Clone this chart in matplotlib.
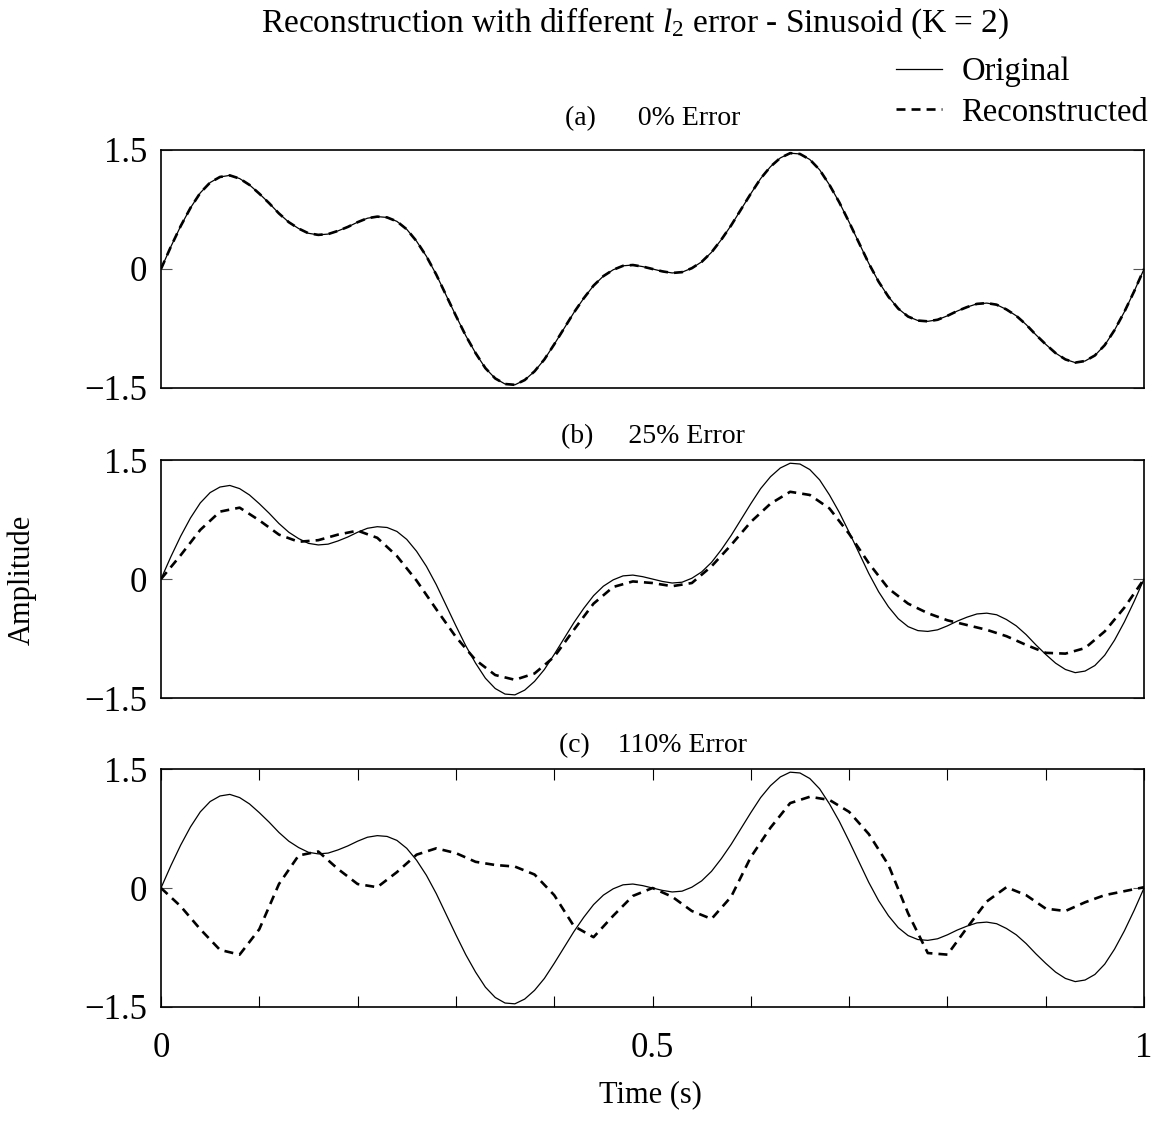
#Reconstruction of a K = 2 sinusoid with different l2 errors.
import numpy as np
import matplotlib.pyplot as plt

plt.rcParams['font.family'] = ['Liberation Serif', 'DejaVu Serif']
plt.rcParams['mathtext.fontset'] = 'custom'
plt.rcParams['mathtext.rm'] = 'Liberation Serif'
plt.rcParams['mathtext.it'] = 'Liberation Serif:italic'

#Sample times (s).
time_fine = np.linspace(0, 1, 101)
time_coarse = np.linspace(0, 1, 51)

#Original signal, read every 0.01 s.
original = [0.00, 0.28, 0.54, 0.77, 0.96, 1.09, 1.16, 1.18, 1.14, 1.06,
            0.95, 0.83, 0.70, 0.59, 0.51, 0.45, 0.43, 0.44, 0.48, 0.53,
            0.59, 0.64, 0.66, 0.65, 0.60, 0.50, 0.35, 0.16, -0.07, -0.33,
            -0.59, -0.84, -1.06, -1.25, -1.38, -1.45, -1.46, -1.40, -1.29, -1.14,
            -0.95, -0.75, -0.55, -0.37, -0.21, -0.09, -0.01, 0.04, 0.05, 0.03,
            0.00, -0.03, -0.05, -0.04, 0.01, 0.09, 0.21, 0.37, 0.55, 0.75,
            0.95, 1.14, 1.29, 1.40, 1.46, 1.45, 1.38, 1.25, 1.06, 0.84,
            0.59, 0.33, 0.07, -0.16, -0.35, -0.50, -0.60, -0.65, -0.66, -0.64,
            -0.59, -0.53, -0.48, -0.44, -0.43, -0.45, -0.51, -0.59, -0.70, -0.83,
            -0.95, -1.06, -1.14, -1.18, -1.16, -1.09, -0.96, -0.77, -0.54, -0.28,
            0.00]

#Reconstructions. (a) matches the original, (b) and (c) read every 0.02 s.
recon_a = list(original)
recon_b = [0.00, 0.30, 0.62, 0.85, 0.90, 0.74, 0.56, 0.47, 0.49, 0.56,
           0.61, 0.52, 0.29, -0.02, -0.38, -0.73, -1.02, -1.21, -1.27, -1.19,
           -0.98, -0.64, -0.31, -0.10, -0.03, -0.05, -0.09, -0.05, 0.16, 0.43,
           0.72, 0.95, 1.10, 1.06, 0.89, 0.57, 0.20, -0.12, -0.31, -0.43,
           -0.52, -0.58, -0.64, -0.72, -0.83, -0.93, -0.94, -0.87, -0.66, -0.36,
           0.00]
recon_c = [0.00, -0.23, -0.52, -0.78, -0.84, -0.52, 0.05, 0.41, 0.46, 0.24,
           0.05, 0.01, 0.20, 0.42, 0.50, 0.44, 0.33, 0.29, 0.27, 0.17,
           -0.09, -0.48, -0.62, -0.35, -0.10, 0.00, -0.11, -0.29, -0.39, -0.11,
           0.39, 0.76, 1.07, 1.15, 1.11, 0.96, 0.68, 0.29, -0.32, -0.82,
           -0.84, -0.50, -0.17, 0.01, -0.09, -0.26, -0.29, -0.18, -0.09, -0.04,
           0.01]

panel_titles = ["(a)      0% Error", "(b)     25% Error", "(c)    110% Error"]
recon_times = [time_fine, time_coarse, time_coarse]
recons = [recon_a, recon_b, recon_c]

x_ticks = [0, 0.1, 0.2, 0.3, 0.4, 0.5, 0.6, 0.7, 0.8, 0.9, 1.0]
x_tick_labels = ['0', '', '', '', '', '0.5', '', '', '', '', '1']
y_ticks = [-1.5, 0, 1.5]
y_tick_labels = ['\u22121.5', '0', '1.5']

dash = (0, (3.4, 2.3))


def main():
    fig = plt.figure(figsize=(11.59, 11.21), dpi=100)
    bottoms = [0.6539, 0.3773, 0.1017]
    title_pads = [18, 12, 12]

    for i in range(3):
        ax = fig.add_axes([0.1389, bottoms[i], 0.8482, 0.2123])
        ax.plot(time_fine, original, color='black', linewidth=0.9)
        ax.plot(recon_times[i], recons[i], color='black', linewidth=1.9,
                linestyle=dash)
        ax.set_xlim(0, 1)
        ax.set_ylim(-1.5, 1.5)
        ax.set_yticks(y_ticks)
        ax.set_yticklabels(y_tick_labels)
        ax.tick_params(axis='y', direction='in', length=8, right=True,
                       labelsize=25, pad=10, width=0.8, color='#555555')
        ax.set_title(panel_titles[i], fontsize=20, pad=title_pads[i])
        for s in ax.spines.values():
            s.set_linewidth(1.2)
        if i < 2:
            ax.set_xticks([])
        else:
            ax.set_xticks(x_ticks)
            ax.set_xticklabels(x_tick_labels)
            ax.tick_params(axis='x', direction='in', length=8, top=True,
                           labelsize=25, pad=18, width=0.8)

    fig.text(0.548, 0.979,
             r"Reconstruction with different $\mathit{l}_{\mathit{2}}$ error - Sinusoid (K = 2)",
             ha='center', va='center', fontsize=24)
    fig.text(0.019, 0.483, "Amplitude", rotation=90, ha='center',
             va='center', fontsize=22)
    fig.text(0.561, 0.023, "Time (s)", ha='center', va='center', fontsize=22)

    h1, = plt.plot([], [], color='black', linewidth=0.9)
    h2, = plt.plot([], [], color='black', linewidth=1.9, linestyle=dash)
    fig.legend([h1, h2], ["Original", "Reconstructed"], loc='upper right',
               bbox_to_anchor=(1.002, 0.961), frameon=False, fontsize=23.5,
               handlelength=1.4, handletextpad=0.6, labelspacing=0.3,
               borderaxespad=0)

    fig.savefig('out.png', dpi=100)


if __name__ == '__main__':
    main()
